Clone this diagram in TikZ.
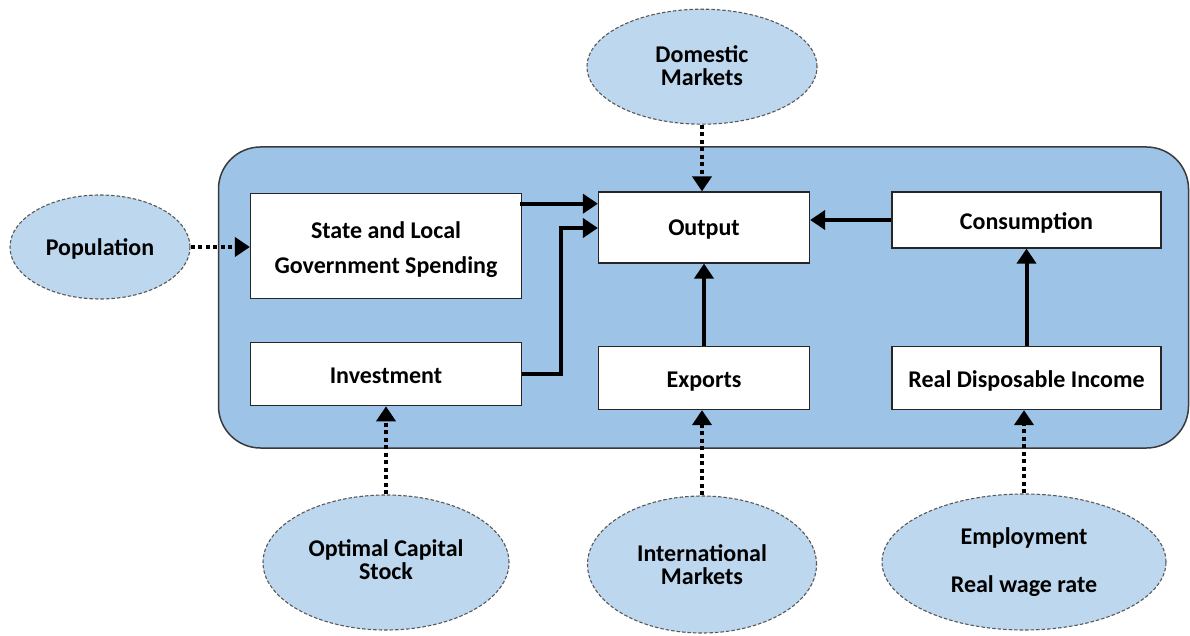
\documentclass[tikz,border=0pt]{standalone}
\usepackage{fontspec}
\setmainfont{Carlito}
\usetikzlibrary{arrows.meta,shapes.geometric,calc}
\definecolor{panel}{HTML}{9DC3E6}
\definecolor{oval}{HTML}{BDD7EE}
\definecolor{edge}{HTML}{3A3A3A}
\newcommand\lowtext[2]{\raisebox{-#1pt}[0pt][0pt]{\begin{tabular}[b]{@{}c@{}}#2\end{tabular}}}
\begin{document}
\begin{tikzpicture}[x=1pt,y=-1pt,
  box/.style={draw=black!85, fill=white, line width=1.2pt, inner sep=0pt,
    font=\bfseries\fontsize{24}{35}\selectfont},
  oval/.style={ellipse, draw=edge!85, fill=oval, line width=1.1pt, dash pattern=on 3.5pt off 2pt,
    inner sep=0pt, font=\bfseries\fontsize{24}{20}\selectfont},
  solidarrow/.style={line width=4pt, -{Triangle[length=15pt,width=19pt]}},
  dotarrow/.style={line width=4pt, dash pattern=on 4pt off 3.5pt, -{Triangle[length=15pt,width=19pt]}}
]
\useasboundingbox (0,0) rectangle (1190,636);
\draw[fill=panel, draw=edge, line width=1.5pt, rounded corners=42pt] (218.5,147) rectangle (1188.5,448);

\node[box, minimum width=271, minimum height=105] (state) at (386,245.8) {\lowtext{27.5}{State and Local\\Government Spending}};
\node[box, minimum width=271, minimum height=63] (inv) at (386,374.2) {\lowtext{9}{Investment}};
\node[box, minimum width=211, minimum height=71] (out) at (704,227.5) {\lowtext{8.5}{Output}};
\node[box, minimum width=269, minimum height=56] (cons) at (1026.5,220) {\lowtext{9.3}{Consumption}};
\node[box, minimum width=211, minimum height=63] (exp) at (704,378) {\lowtext{9.5}{Exports}};
\node[box, minimum width=269, minimum height=63] (rdi) at (1026.5,378) {\lowtext{9.5}{Real Disposable Income}};

\node[oval, minimum width=180, minimum height=104] (pop) at (100,247) {\lowtext{9}{Population}};
\node[oval, minimum width=230, minimum height=115] (dom) at (702,66.7) {\lowtext{19}{Domestic\\Markets}};
\node[oval, minimum width=246, minimum height=135] (opt) at (386,562.5) {\lowtext{17}{Optimal Capital\\Stock}};
\node[oval, minimum width=229, minimum height=137] (intl) at (702,564.5) {\lowtext{20}{International\\Markets}};
\node[oval, minimum width=284, minimum height=136] (emp) at (1024,562) {\lowtext{30.5}{Employment\\[25pt]Real wage rate}};

\draw[dotarrow] (pop.east) -- (pop.east -| state.west);
\draw[dotarrow] (dom.south) -- (dom.south |- out.north);
\draw[dotarrow] (opt.north) -- (opt.north |- inv.south);
\draw[dotarrow] (intl.north) -- (intl.north |- exp.south);
\draw[dotarrow] (emp.north) -- (emp.north |- rdi.south);

\coordinate (sa) at ($(state.north east)+(-2,11)$);
\draw[solidarrow] (sa) -- (sa -| out.west);
\coordinate (ia) at ($(out.west)+(0,0.5)$);
\draw[solidarrow] (inv.east) -- ++(39,0) |- (ia);
\draw[solidarrow] (cons.west) -- (cons.west -| out.east);
\draw[solidarrow] (exp.north) -- (out.south);
\draw[solidarrow] (rdi.north) -- (cons.south);
\end{tikzpicture}
\end{document}
